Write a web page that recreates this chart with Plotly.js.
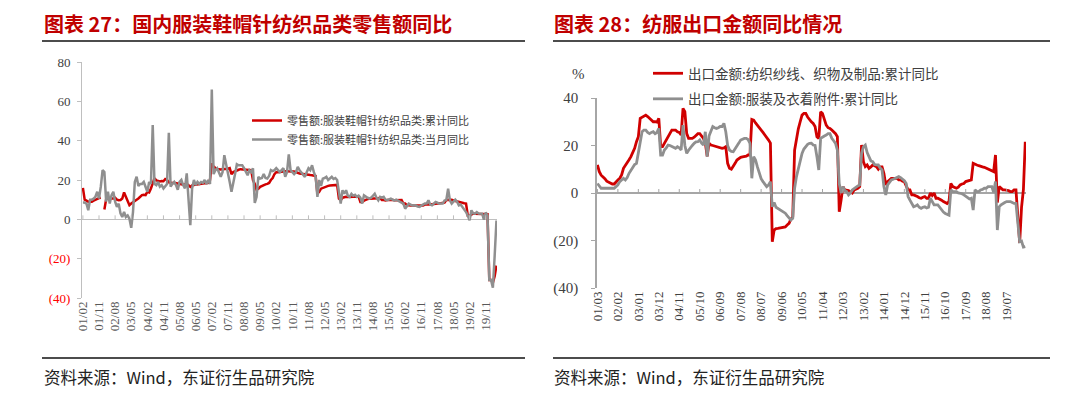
<!DOCTYPE html>
<html><head><meta charset="utf-8">
<script src="https://cdn.plot.ly/plotly-3.0.1.min.js"></script>
<style>html,body{margin:0;padding:0;background:#fff;} #chart{width:1080px;height:397px;}</style>
</head><body><div id="chart"></div>
<script>
// ---- Left chart: retail sales of apparel (monthly from 2001/02) ----
const retailTickLabels = ['01/02','01/11','02/08','03/05','04/02','04/11','05/08','06/05','07/02','07/11','08/08','09/05','10/02','10/11','11/08','12/05','13/02','13/11','14/08','15/05','16/02','16/11','17/08','18/05','19/02','19/11'];
const retailNames = ['零售额:服装鞋帽针纺织品类:累计同比','零售额:服装鞋帽针纺织品类:当月同比'];
const retailCum = [16,10,9.5,9,9,9,9.5,10,10.3,10.8,11,
 null,5,10.3,10.6,10.6,10.5,10.6,11,10,9.7,9.8,10.6,
 13.7,11.5,9,7.2,8,8.8,9.5,10,10.6,11.5,12.3,12.5,
 12.3,14,13.7,15.7,18,20.9,19.8,19.5,19.3,19.5,19.4,20.5,
 20,18.8,18.5,18.5,18.6,18.3,18,17.8,17.8,17.6,17.8,18,
 17.4,16.5,17.3,17.5,17.5,17.8,18,18,18.2,18.3,18.4,18.5,
 20,28.5,26.8,26,25.5,25.5,25.3,25.5,25.5,25.6,25.7,26,
 23,24,24.5,25,25.2,25.5,25.4,25.3,25.2,25,25,25,
 20,18,15,15.5,16.5,17,17.5,17.8,18,18.5,20,21,
 23,24,24,24,24.2,24.3,24.5,24.5,24.5,24.4,24.3,24.3,
 24,23.5,23.3,23.2,23,23,22.8,22.7,22.5,22.4,22.2,22,
 13,14,15.6,16,16.5,16.8,17,17.2,17.3,17.3,17.4,17.5,
 10.5,9.7,11,11.4,11.5,11.4,11.4,11.5,11.4,11.4,11.5,11.6,
 8.8,8.8,9.5,10,10.3,10.5,10.5,10.5,10.6,10.6,10.7,10.9,
 9.8,9.8,9.6,9.8,9.9,9.9,9.8,9.7,9.7,9.7,9.7,9.8,
 8,8,7.2,7,7,7,7,7,7,7,7,7,
 7.5,7.5,7.3,7.5,7.7,7.8,7.8,7.9,8,8.2,8.4,8.5,
 9.8,9.8,10,10,9.6,9.3,9,8.8,8.6,8.4,8.2,8,
 1.8,1.8,2.5,3,2.9,2.9,2.9,2.9,2.9,2.9,2.8,2.6,
 -30.9,-30.9,-32.2,-28.9,-23.5];
const retailMon = [8.5,8.5,8,4.6,10,10,10.5,11.5,14,10.6,16.6,
 25,24,9,14,8,12.3,14,9,6.3,8,3,1.2,
 3.8,1.2,2,0.3,-4.3,3.8,19,21.7,17,18,18,19,
 16.6,14,19,18,48,18,17.4,19,16.6,17.4,15.7,16.6,
 18,44,16.6,18,19,17.4,15,19,20,17.4,15.7,23.4,
 12.3,-3,15.7,20,17.4,19,18,19,18.5,20,18,20,
 18,66,23,25,26,24,21.6,24,32.6,28,24,19,
 14,18,23,28,27.5,27.5,27.5,26,24,22.4,25,24,
 26,8.3,11.4,21.6,20.7,21,23,21,20.7,22,25,24.5,
 25,26,25,24,25,26,21.6,24,33,25,24,23,
 24,26.7,25,24,23,21.6,24,26,25,27.5,24,21.6,
 11.4,20,17,20.7,21,21.6,20,21,21.6,20.5,21,20,
 13,8,14.8,13,14.8,12,11.4,13,12,12.5,11.4,12,
 11,8,12.2,11.4,11,10.5,11,12,13,11,9.7,11.4,
 11,11.4,10,9.7,10,10.5,10,9.5,10,9.5,9,8.8,
 8,5.4,7,8,7.5,7,7.1,7,6.5,6.3,7,7.5,
 8,8,9.7,7.5,7.1,8,8.8,8.5,8,8,8,9.5,
 9.8,15.6,9.7,8,8.8,10,9,7.1,7.5,6.3,5,3.7,
 1.8,-0.5,4.6,3,2.9,3.7,3,2.9,2.9,-0.2,3.5,1.8,
 -30.9,-30.9,-34.8,-18.5,-0.6];
const retailYTicks = [-40,-20,0,20,40,60,80];
const retailYLabels = ['(40)','(20)','0','20','40','60','80'];

// ---- Right chart: apparel exports (cumulative, monthly from 2001/03) ----
const exportTickLabels = ['01/03','02/02','03/01','03/12','04/11','05/10','06/09','07/08','08/07','09/06','10/05','11/04','12/03','13/02','14/01','14/12','15/11','16/10','17/09','18/08','19/07'];
const exportNames = ['出口金额:纺织纱线、织物及制品:累计同比','出口金额:服装及衣着附件:累计同比'];
const textileExp = [11.8,9,7.5,6.9,6,5,4.5,4,3.8,3.8,
 4.8,5.5,6.2,7.6,10.4,11.5,12.5,14,15.3,17,18.8,21.6,
 23.7,31.4,32,32.5,32.8,32.2,31.4,30.5,30,30,29.8,31.4,
 19.5,19.5,20.9,22,23.7,25,26.5,26.5,26.5,25.8,25.5,24.4,
 35.6,34.2,25,23,23,23,23.5,24.4,25,25,24,23,
 21,15.5,21,20.2,20,19.8,19.5,19.2,19,18.8,19,19.5,
 12.5,10.4,10,11,12.5,13.9,14.5,15,15.2,15.3,15.5,16,
 16,31,30.7,29.5,28.6,27.5,26.5,25.5,24.4,23.5,22.3,21,
 -20.5,-15.6,-15,-14.9,-14.8,-14.7,-14.6,-14.3,-13.5,-12.8,-11,-10,
 18,23,27,30,32.8,33.5,33.5,32,30.7,30,29.3,28,
 23.7,23,34.2,33.5,31,28.6,27.5,27.2,26.5,25.8,25,23.7,
 -7.9,-3,2.7,1.3,1.3,1,0.5,0,1.3,1.5,2,2.7,
 20.2,13.2,11.1,11.8,10.4,11,11.8,11.5,11.1,10,11,11,
 8.3,3.4,4.8,5.5,6.2,6.2,6.2,6.2,5.5,5.5,5,4.8,
 3,1.3,1.3,-0.8,-0.8,-1,-1.5,-2,-2.2,-1.8,-1.5,-2.2,
 -2.2,0,-1,0,-2.2,-2.2,-2.5,-3,-3.6,-4,-4.4,-3.6,
 4,2.7,2.5,2,2.5,3.4,3.8,4,4.8,5,5.5,5.5,
 12.5,12,11.8,11.5,11.1,11,10.8,10.4,10,9.7,9.3,9,
 16,-4,2.7,2,1.3,1.3,1.3,1,0.6,0.6,1.3,1.3,
 null,-21,-6,1.4,21.6];
const garmentExp = [4,2.7,2,2,2,2,2,2,2,2,
 2.7,3.4,4.8,5.5,6.2,5.5,6.5,8.3,9.5,11.1,12,12.5,
 17,22.3,25.8,26.5,26.5,25.5,25,25.5,25.8,25,25.5,27.2,
 16,16,18.1,19,20.2,20,19.5,19,18.8,19.5,19,18.1,
 28.6,20,16.7,18,18.8,20,20.9,21.5,21.6,22.3,21,20.2,
 25.8,15.3,24,26.5,28,27.5,27.2,27.5,28,28,29.3,25.8,
 20,18.1,17.5,17.4,18.5,19.5,21,22.3,22.8,23,23,22.5,
 20.9,6.2,15.3,13.9,11,8.3,6,4.8,3.5,2.7,3.4,4.8,
 -5.8,-4,-6,-6.5,-7,-7.5,-8,-8.5,-9.5,-10.5,-11.4,-10.7,
 2,6.9,10,12.5,16.7,18.5,19.5,20.5,20.9,21,20.2,20,
 15.3,9.7,23,23.7,24,24.4,25,25,23,22,20.9,18,
 4,0,2.7,1,0.6,-0.8,0,1.3,2,2.7,3,3.4,
 16.7,19.5,20.2,17,15.3,13.5,13.2,12,11.8,11.8,10.5,9.7,
 2.7,-0.8,3.4,4.5,5.5,5.8,6.2,6.5,6.9,6.5,6,5.2,
 4,-1.5,-3,-4.4,-5.8,-5.5,-5,-6,-6.5,-6,-5.8,-6.3,
 -6,-2.2,-3.5,-5,-5,-5,-6,-7.2,-8,-8.6,-9,-9.3,
 1.3,0.6,0.6,0.6,0,0,-0.3,-0.8,-1.5,-2.2,-2.5,-2.2,
 -7.2,1.3,0.6,0.6,1.3,1.5,2,2,2.7,2.7,2.7,0.3,
 4.8,-15.6,-5.8,-5,-4.4,-4,-3.6,-3.6,-3.6,-4,-4.4,-4.4,
 null,-20.5,-20.2,-22.8,-22.6];
const exportYTicks = [-40,-20,0,20,40];
const exportYLabels = ['(40)','(20)','0','20','40'];

// ---- figure texts ----
const titleLeft = '图表 27：国内服装鞋帽针纺织品类零售额同比';
const titleRight = '图表 28：纺服出口金额同比情况';
const sourceText = '资料来源：Wind，东证衍生品研究院';

// ---- build ----
const W = 1080, H = 397;
const fx = v => v / W, fy = v => 1 - v / H;
const RED = '#d00000', GRAY = '#8f8f8f', AX = '#bfbfbf';
const idx = arr => arr.map((_, i) => i);
const leftTickVals = retailTickLabels.map((_, i) => i * 9);
const rightTickVals = exportTickLabels.map((_, i) => i * 11);
const serif = 'Liberation Serif, Times New Roman, serif';
const cjk = 'Noto Sans CJK SC, sans-serif';

const traces = [
  {x: idx(retailCum), y: retailCum, xaxis: 'x', yaxis: 'y', type: 'scatter', mode: 'lines', name: retailNames[0],
   line: {color: RED, width: 2.5}, legend: 'legend', connectgaps: false},
  {x: idx(retailMon), y: retailMon, xaxis: 'x', yaxis: 'y', type: 'scatter', mode: 'lines', name: retailNames[1],
   line: {color: GRAY, width: 2.5}, legend: 'legend'},
  {x: idx(textileExp), y: textileExp, xaxis: 'x2', yaxis: 'y2', type: 'scatter', mode: 'lines', name: exportNames[0],
   line: {color: RED, width: 2.8}, legend: 'legend2', legendgroup: 'a', connectgaps: true},
  {x: idx(garmentExp), y: garmentExp, xaxis: 'x2', yaxis: 'y2', type: 'scatter', mode: 'lines', name: exportNames[1],
   line: {color: GRAY, width: 2.8}, legend: 'legend2', legendgroup: 'b', connectgaps: true}
];

const shapes = [];
function hline(y, x0, x1) {
  shapes.push({type: 'line', xref: 'paper', yref: 'paper', x0: fx(x0), x1: fx(x1), y0: fy(y), y1: fy(y),
    line: {color: '#111', width: 1.6}});
}
hline(41, 42, 525); hline(41, 553, 1050);
hline(358, 42, 525); hline(358, 553, 1050);
leftTickVals.forEach(v => shapes.push({type: 'line', xref: 'x', yref: 'y', x0: v, x1: v, ysizemode: 'pixel', yanchor: 0, y0: 0, y1: 4, line: {color: AX, width: 1}}));
rightTickVals.forEach(v => shapes.push({type: 'line', xref: 'x2', yref: 'y2', x0: v, x1: v, ysizemode: 'pixel', yanchor: 0, y0: 0, y1: 4, line: {color: '#a6a6a6', width: 1}}));

const ann = (text, x, y, font, xanchor) => ({text, x: fx(x), y: fy(y), xref: 'paper', yref: 'paper', showarrow: false,
  xanchor: xanchor || 'left', yanchor: 'middle', font});
const annotations = [
  ann('<b>' + titleLeft + '</b>', 42, 23, {family: cjk, size: 20, color: '#c00000'}),
  ann('<b>' + titleRight + '</b>', 552, 23, {family: cjk, size: 20, color: '#c00000'}),
  ann(sourceText, 42, 377, {family: cjk, size: 16.5, color: '#222'}),
  ann(sourceText, 552, 377, {family: cjk, size: 16.5, color: '#222'}),
  ann('%', 578, 74, {family: serif, size: 15, color: '#404040'}, 'center')
];

const layout = {
  width: W, height: H, margin: {l: 0, r: 0, t: 0, b: 0},
  paper_bgcolor: '#ffffff', plot_bgcolor: 'rgba(0,0,0,0)',
  xaxis: {domain: [fx(82), fx(497)], range: [-0.5, 231.3], anchor: 'y', tickmode: 'array', tickvals: leftTickVals,
    ticktext: retailTickLabels, tickangle: -90, showline: false, showgrid: false, zeroline: false, ticks: '',
    tickfont: {family: serif, size: 13, color: '#595959'}, fixedrange: true},
  yaxis: {domain: [fy(298), fy(62)], range: [-40, 80], anchor: 'x', tickmode: 'array', tickvals: retailYTicks,
    ticktext: retailYLabels.map(t => t.startsWith('(') ? '<span style="color:#ff0000">' + t + '</span>' : t),
    showline: true, linecolor: AX, linewidth: 1, ticks: 'outside', ticklen: 4, tickcolor: AX, showgrid: false,
    zeroline: true, zerolinecolor: AX, zerolinewidth: 1.2, ticklabelstandoff: 4,
    tickfont: {family: serif, size: 13, color: '#404040'}, fixedrange: true},
  xaxis2: {domain: [fx(596.5), fx(1026)], range: [-0.5, 230.4], anchor: 'y2', tickmode: 'array', tickvals: rightTickVals,
    ticktext: exportTickLabels, tickangle: -90, showline: false, showgrid: false, zeroline: false, ticks: '',
    tickfont: {family: serif, size: 13, color: '#404040'}, fixedrange: true},
  yaxis2: {domain: [fy(288), fy(98)], range: [-40, 40], anchor: 'x2', tickmode: 'array', tickvals: exportYTicks,
    ticktext: exportYLabels, showline: true, linecolor: '#a6a6a6', linewidth: 1.2, ticks: 'outside', ticklen: 4,
    tickcolor: '#a6a6a6', showgrid: false, zeroline: true, zerolinecolor: '#a6a6a6', zerolinewidth: 1.5,
    ticklabelstandoff: 10, tickfont: {family: serif, size: 15, color: '#404040'}, fixedrange: true},
  legend: {x: fx(247), y: fy(106), xanchor: 'left', yanchor: 'top', bgcolor: 'rgba(0,0,0,0)', borderwidth: 0,
    font: {family: cjk, size: 11, color: '#404040'}, itemwidth: 30, traceorder: 'normal'},
  legend2: {x: fx(648), y: fy(58), xanchor: 'left', yanchor: 'top', bgcolor: 'rgba(0,0,0,0)', borderwidth: 0,
    font: {family: cjk, size: 13.5, color: '#404040'}, itemwidth: 30, traceorder: 'grouped', tracegroupgap: 5},
  showlegend: true,
  shapes, annotations
};

Plotly.newPlot('chart', traces, layout, {displayModeBar: false, staticPlot: true});
</script></body></html>
